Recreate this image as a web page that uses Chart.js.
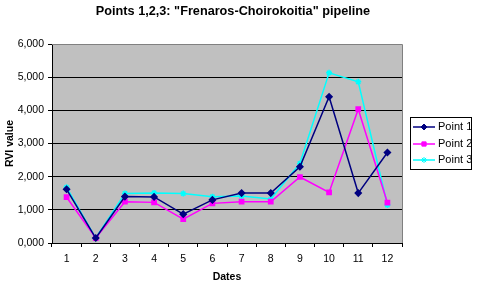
<!DOCTYPE html>
<html>
<head>
<meta charset="utf-8">
<script src="https://cdn.jsdelivr.net/npm/chart.js@4.4.1/dist/chart.umd.min.js"></script>
<style>
  html, body { margin: 0; padding: 0; background: #fff; }
  #wrap { width: 478px; height: 285px; }
</style>
</head>
<body>
<div id="wrap"><canvas id="rviChart" width="478" height="285"></canvas></div>
<script>
const dates = ['1', '2', '3', '4', '5', '6', '7', '8', '9', '10', '11', '12']
const point1 = [1620, 150, 1400, 1390, 870, 1300, 1505, 1505, 2300, 4410, 1505, 2730]
const point2 = [1380, 150, 1245, 1225, 720, 1195, 1245, 1245, 1990, 1525, 4035, 1215]
const point3 = [1680, 150, 1495, 1510, 1490, 1395, 1415, 1325, 2400, 5130, 4860, 1145]
const seriesNames = ['Point 1', 'Point 2', 'Point 3']
const yTicks = [0, 1000, 2000, 3000, 4000, 5000, 6000]

const FONT = 'Arial, "Liberation Sans", sans-serif'

// grey plot background + grey frame on top/right
const plotArea = {
  id: 'plotArea',
  beforeDraw(chart) {
    const { ctx, chartArea: a } = chart
    ctx.save()
    ctx.fillStyle = '#c0c0c0'
    ctx.fillRect(a.left, a.top, a.right - a.left, a.bottom - a.top)
    ctx.restore()
  },
  afterDatasetsDraw(chart) {
    const { ctx, chartArea: a } = chart
    ctx.save()
    ctx.strokeStyle = '#808080'
    ctx.lineWidth = 1
    ctx.beginPath()
    ctx.moveTo(a.left, a.top + 0.5)
    ctx.lineTo(a.right + 0.5, a.top + 0.5)
    ctx.lineTo(a.right + 0.5, a.bottom)
    ctx.stroke()
    ctx.restore()
  }
}

// title and boxed legend, placed like the original
const extras = {
  id: 'extras',
  afterDraw(chart) {
    const { ctx } = chart
    ctx.save()
    ctx.fillStyle = '#000'
    ctx.font = 'bold 12.7px ' + FONT
    ctx.textAlign = 'center'
    ctx.textBaseline = 'middle'
    ctx.fillText('Points 1,2,3: "Frenaros-Choirokoitia" pipeline', 233, 11)

    ctx.fillStyle = '#fff'
    ctx.fillRect(410, 117, 61, 52)
    ctx.strokeStyle = '#000'
    ctx.lineWidth = 1
    ctx.strokeRect(410.5, 117.5, 61, 52)

    const rows = [127, 144, 160]
    chart.data.datasets.forEach((ds, i) => {
      const y = rows[i]
      ctx.strokeStyle = ds.borderColor
      ctx.fillStyle = ds.backgroundColor
      ctx.lineWidth = 1.5
      ctx.beginPath()
      ctx.moveTo(413, y)
      ctx.lineTo(435, y)
      ctx.stroke()
      ctx.lineWidth = 1
      Chart.helpers.drawPoint(ctx, {
        pointStyle: ds.pointStyle,
        radius: ds.pointRadius,
        borderWidth: 1
      }, 424, y)
      ctx.fillStyle = '#000'
      ctx.font = '11px ' + FONT
      ctx.textAlign = 'left'
      ctx.textBaseline = 'middle'
      ctx.fillText(ds.label, 438, y)
    })
    ctx.restore()
  }
}

function series(label, data, color, style) {
  return {
    label,
    data,
    borderColor: color,
    backgroundColor: color,
    borderWidth: 1.5,
    pointStyle: style,
    pointRadius: 3,
    pointBorderColor: color,
    pointBackgroundColor: color,
    tension: 0
  }
}

new Chart(document.getElementById('rviChart'), {
  type: 'line',
  data: {
    labels: dates,
    datasets: [
      series(seriesNames[0], point1, '#000080', 'rectRot'),
      series(seriesNames[1], point2, '#ff00ff', 'rect'),
      series(seriesNames[2], point3, '#00ffff', 'star')
    ]
  },
  options: {
    responsive: false,
    animation: false,
    layout: { padding: { top: 44, left: 0, right: 76, bottom: 0 } },
    plugins: {
      legend: { display: false },
      title: { display: false },
      tooltip: { enabled: false }
    },
    scales: {
      x: {
        offset: true,
        grid: {
          offset: true,
          drawOnChartArea: false,
          drawTicks: true,
          tickLength: 4,
          color: '#000'
        },
        border: { color: '#000', width: 1 },
        ticks: {
          color: '#000',
          padding: 6,
          maxRotation: 0,
          font: { family: FONT, size: 10.5 }
        },
        title: {
          display: true,
          text: 'Dates',
          color: '#000',
          padding: { top: 0, bottom: 2 },
          font: { family: FONT, size: 10.5, weight: 'bold' }
        },
        afterFit(scale) { scale.height = 42 }
      },
      y: {
        min: 0,
        max: 6000,
        afterBuildTicks(scale) { scale.ticks = yTicks.map(v => ({ value: v })) },
        grid: {
          color: '#000',
          lineWidth: 1,
          tickLength: 4
        },
        border: { color: '#000', width: 1 },
        ticks: {
          color: '#000',
          padding: 4,
          font: { family: FONT, size: 10.5 },
          callback: v => (v / 1000).toFixed(0) + ',000'
        },
        title: {
          display: true,
          text: 'RVI value',
          color: '#000',
          padding: { top: 4, bottom: 0 },
          font: { family: FONT, size: 10.5, weight: 'bold' }
        },
        afterFit(scale) { scale.width = 52 }
      }
    }
  },
  plugins: [plotArea, extras]
})
</script>
</body>
</html>
